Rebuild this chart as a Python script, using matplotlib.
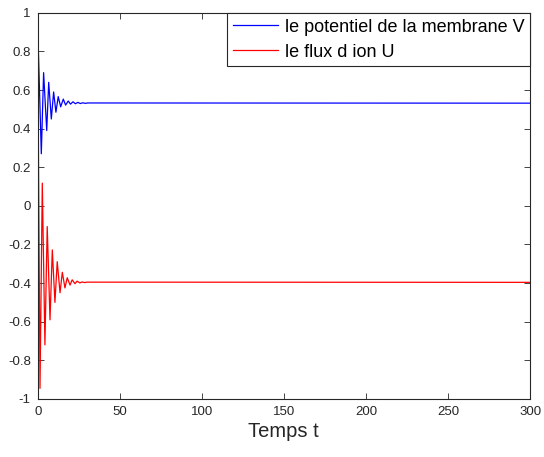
import numpy as np
import matplotlib
matplotlib.use('Agg')
import matplotlib.pyplot as plt
from matplotlib.ticker import FuncFormatter

plt.rcParams['font.family'] = ['Liberation Sans', 'DejaVu Sans']

# extrema (temps, valeur)
t_v = [0, 0.4, 2.2, 3.6, 5.5, 6.7, 8.3, 9.7, 11.1, 12.5, 14.0, 15.6, 17.0, 18.6, 20.0,
       21.5, 23.0, 24.5, 26.0, 27.5, 29.0, 30.5, 300]
v = [0.80, 0.81, 0.27, 0.69, 0.39, 0.64, 0.45, 0.59, 0.485, 0.566, 0.513, 0.553, 0.522,
     0.543, 0.527, 0.539, 0.529, 0.536, 0.530, 0.534, 0.531, 0.533, 0.532]

t_u = [0, 0.3, 1.4, 2.8, 4.4, 5.8, 7.5, 8.9, 10.5, 11.9, 13.6, 15.0, 16.6, 18.0, 19.7,
       21.0, 22.7, 24.0, 25.7, 27.0, 28.7, 30.0, 300]
u = [0.54, 0.50, -0.945, 0.118, -0.72, -0.107, -0.59, -0.228, -0.50, -0.289, -0.45, -0.344,
     -0.425, -0.372, -0.41, -0.383, -0.403, -0.39, -0.399, -0.394, -0.397, -0.395, -0.396]

gris = (0.15, 0.15, 0.15)


def fmt(y, pos):
    y = round(y, 1)
    if y == 0:
        return '0'
    return '%g' % y


fig = plt.figure(figsize=(5.44, 4.57), dpi=100)
ax = fig.add_axes([0.0693, 0.127, 0.905, 0.845])
ax.plot(t_v, v, color=(0, 0, 1), lw=0.9, label='le potentiel de la membrane V')
ax.plot(t_u, u, color=(1, 0, 0), lw=0.9, label='le flux d ion U')

ax.set_xlim(0, 300)
ax.set_ylim(-1, 1)
ax.set_xticks(np.arange(0, 301, 50))
ax.set_yticks(np.round(np.arange(-1, 1.01, 0.2), 1))
ax.yaxis.set_major_formatter(FuncFormatter(fmt))
ax.xaxis.set_major_formatter(FuncFormatter(lambda x, p: '%g' % x))
ax.tick_params(direction='in', top=True, right=True, length=4, width=0.6,
               colors=gris, labelsize=9.5, pad=5)
for s in ax.spines.values():
    s.set_color(gris)
    s.set_linewidth(0.8)

ax.set_xlabel('Temps t', fontsize=14.5, color=gris, labelpad=3)

leg = ax.legend(loc='upper right', borderaxespad=0, fontsize=13, fancybox=False,
                framealpha=1, edgecolor=gris, handlelength=2.5, handletextpad=0.35,
                labelspacing=0.45, borderpad=0.32)
leg.get_frame().set_linewidth(0.8)

fig.savefig('out.png', dpi=100)
